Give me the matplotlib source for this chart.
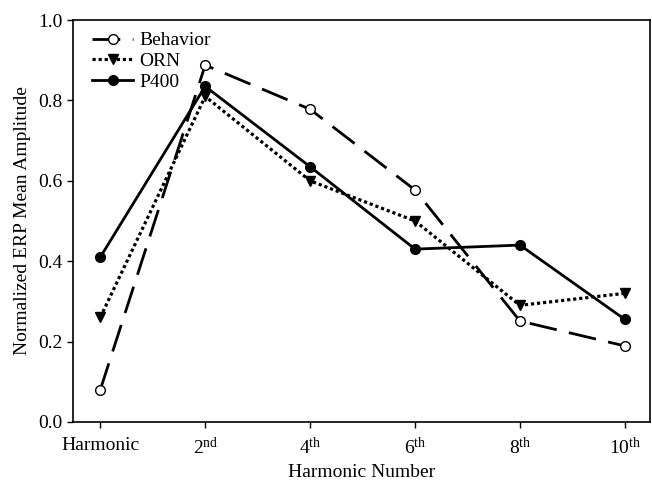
import matplotlib
matplotlib.use("Agg")
import matplotlib.pyplot as plt

plt.rcParams['font.family'] = ['Liberation Serif', 'DejaVu Serif']
plt.rcParams['mathtext.fontset'] = 'custom'
plt.rcParams['mathtext.rm'] = 'Liberation Serif'
plt.rcParams['mathtext.it'] = 'Liberation Serif:italic'

categories = ["Harmonic", r"2$^{\mathrm{nd}}$", r"4$^{\mathrm{th}}$", r"6$^{\mathrm{th}}$",
              r"8$^{\mathrm{th}}$", r"10$^{\mathrm{th}}$"]
behavior = [0.08, 0.888, 0.778, 0.577, 0.251, 0.189]
orn = [0.26, 0.81, 0.60, 0.50, 0.29, 0.32]
p400 = [0.41, 0.835, 0.635, 0.43, 0.44, 0.255]
y_ticks = [0.0, 0.2, 0.4, 0.6, 0.8, 1.0]

fig = plt.figure(figsize=(6.52, 4.9), dpi=100)
ax = fig.add_axes([0.112, 0.139, 0.885, 0.82])
x = list(range(len(categories)))

ax.plot(x, behavior, color='black', lw=2, dashes=(10, 4.5), marker='o', ms=7,
        mfc='white', mec='black', mew=1, label='Behavior')
ax.plot(x, orn, color='black', lw=2.3, linestyle=(0, (1, 0.9)), marker='v', ms=7,
        mfc='black', mec='black', label='ORN')
ax.plot(x, p400, color='black', lw=2, linestyle='-', marker='o', ms=7,
        mfc='black', mec='black', label='P400')

ax.set_xlim(-0.26, 5.24)
ax.set_ylim(0, 1.0)
ax.set_xticks(x)
ax.set_xticklabels(categories, fontsize=14)
ax.set_yticks(y_ticks)
ax.set_yticklabels([f"{v:.1f}" for v in y_ticks], fontsize=14)
ax.tick_params(direction='out', length=4, width=1)
ax.tick_params(axis='x', pad=7)
for s in ax.spines.values():
    s.set_linewidth(1.2)

ax.set_xlabel("Harmonic Number", fontsize=14, labelpad=4)
ax.set_ylabel("Normalized ERP Mean Amplitude", fontsize=14, labelpad=5)

ax.legend(loc='upper left', frameon=False, fontsize=14, handlelength=2.1,
          handletextpad=0.3, labelspacing=0.15, borderaxespad=0.0,
          bbox_to_anchor=(0.02, 0.99))

fig.savefig("out.png", dpi=100)
